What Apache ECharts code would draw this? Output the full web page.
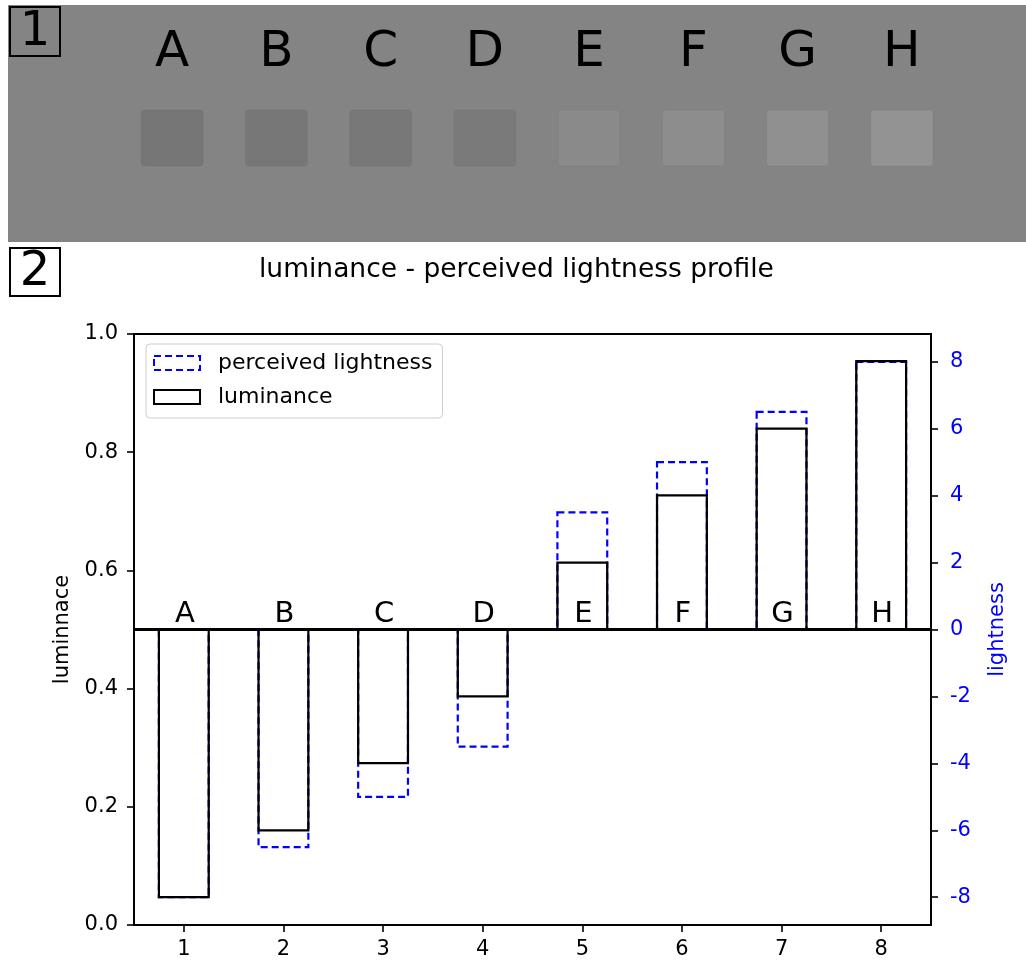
<!DOCTYPE html>
<html>
<head>
<meta charset="utf-8">
<script src="https://cdn.jsdelivr.net/npm/echarts@6/dist/echarts.min.js"></script>
<style>
html,body{margin:0;padding:0;background:#fff;}
#chart{width:1026px;height:962px;}
</style>
</head>
<body>
<div id="chart"></div>
<script>
// ---- data ----
var letters = ['A', 'B', 'C', 'D', 'E', 'F', 'G', 'H'];
var xTickLabels = ['1', '2', '3', '4', '5', '6', '7', '8'];
var luminance = [0.047, 0.160, 0.274, 0.387, 0.613, 0.727, 0.840, 0.954];
var lightness = [-8, -6.5, -5, -3.5, 3.5, 5, 6.5, 8];
var lightnessTicks = [-8, -6, -4, -2, 0, 2, 4, 6, 8];
var squareGrays = ['#767676', '#777777', '#787878', '#7a7a7a', '#8a8a8a', '#8d8d8d', '#909090', '#939393'];

var FONT = '"DejaVu Sans", "Liberation Sans", sans-serif';
var chart = echarts.init(document.getElementById('chart'), null, {renderer: 'canvas'});

var lumData = luminance.map(function (v, i) { return [i, v]; });
var ligData = lightness.map(function (v, i) { return [i, v]; });
var sqData = squareGrays.map(function (c, i) { return [i, 0.5]; });

function barItem(baseValue, stroke, dash, withLetter) {
  return function (params, api) {
    var i = api.value(0);
    var v = api.value(1);
    var base = api.coord([i, baseValue]);
    var top = api.coord([i, v]);
    var w = api.size([1, 0])[0] * 0.5;
    var y0 = Math.min(base[1], top[1]);
    var h = Math.abs(base[1] - top[1]);
    var children = [
      {type: 'rect', shape: {x: base[0] - w / 2, y: y0, width: w, height: h},
        style: {fill: 'none', stroke: stroke, lineWidth: 2.2, lineDash: dash}}
    ];
    if (withLetter) {
      children.push({type: 'text', style: {x: base[0] + 1, y: base[1] - 15, text: letters[params.dataIndex],
        fill: '#000', font: '29px ' + FONT, align: 'center', verticalAlign: 'middle'}});
    }
    return {type: 'group', children: children};
  };
}

var option = {
  animation: false,
  backgroundColor: '#ffffff',
  title: {
    text: 'luminance - perceived lightness profile',
    left: 259, top: 257, padding: 0,
    textStyle: {fontFamily: FONT, fontSize: 26.5, fontWeight: 'normal', color: '#000'}
  },
  graphic: [
    {type: 'rect', z: -10, shape: {x: 8, y: 5, width: 1018, height: 237}, style: {fill: '#848484'}},
    {type: 'rect', z: 10, shape: {x: 10, y: 7, width: 50, height: 49}, style: {fill: 'none', stroke: '#000', lineWidth: 2}},
    {type: 'text', z: 10, style: {x: 35, y: 33, text: '1', fill: '#000', font: '48px ' + FONT, align: 'center', verticalAlign: 'middle'}},
    {type: 'rect', z: 10, shape: {x: 10, y: 248, width: 50, height: 48}, style: {fill: 'none', stroke: '#000', lineWidth: 2}},
    {type: 'text', z: 10, style: {x: 35, y: 273, text: '2', fill: '#000', font: '48px ' + FONT, align: 'center', verticalAlign: 'middle'}}
  ],
  legend: {
    orient: 'vertical', left: 146, top: 344,
    itemWidth: 46, itemHeight: 14, itemGap: 12,
    padding: [8, 10, 10, 7],
    backgroundColor: '#ffffff', borderColor: '#cccccc', borderWidth: 1, borderRadius: 4,
    textStyle: {fontFamily: FONT, fontSize: 22, color: '#000', lineHeight: 20, padding: [0, 0, 0, 13]},
    data: [
      {name: 'perceived lightness', icon: 'rect', itemStyle: {color: 'rgba(0,0,0,0)', borderColor: '#0000ff', borderWidth: 2, borderType: [7, 4]}},
      {name: 'luminance', icon: 'rect', itemStyle: {color: 'rgba(0,0,0,0)', borderColor: '#000000', borderWidth: 2, borderType: 'solid'}}
    ]
  },
  grid: [
    {left: 134, top: 334, width: 797, height: 591, show: true, borderColor: '#000', borderWidth: 2, backgroundColor: 'transparent'},
    {left: 120, top: 5, width: 834, height: 237, show: false}
  ],
  xAxis: [
    {
      type: 'category', gridIndex: 0, data: xTickLabels, boundaryGap: true,
      axisLine: {show: false},
      axisTick: {show: true, alignWithLabel: true, length: 7, lineStyle: {color: '#000', width: 1.6}},
      axisLabel: {margin: 14, color: '#000', fontFamily: FONT, fontSize: 21},
      splitLine: {show: false}
    },
    {
      type: 'category', gridIndex: 1, data: letters, boundaryGap: true, show: false
    }
  ],
  yAxis: [
    {
      type: 'value', gridIndex: 0, min: 0, max: 1, interval: 0.2, position: 'left',
      name: 'luminnace', nameLocation: 'middle', nameRotate: 90, nameGap: 61,
      nameTextStyle: {fontFamily: FONT, fontSize: 21, color: '#000'},
      axisLine: {show: false},
      axisTick: {show: true, length: 7, lineStyle: {color: '#000', width: 1.6}},
      axisLabel: {margin: 16, color: '#000', fontFamily: FONT, fontSize: 21, formatter: function (v) { return v.toFixed(1); }},
      splitLine: {show: false}
    },
    {
      type: 'value', gridIndex: 0, min: -8.83, max: 8.83, position: 'right',
      name: 'lightness', nameLocation: 'middle', nameRotate: 90, nameGap: 56,
      nameTextStyle: {fontFamily: FONT, fontSize: 21, color: '#0000ff'},
      axisLine: {show: false},
      axisTick: {show: true, length: 7, customValues: lightnessTicks, lineStyle: {color: '#000', width: 1.6}},
      axisLabel: {margin: 19, color: '#0000ff', fontFamily: FONT, fontSize: 21, customValues: lightnessTicks,
        formatter: function (v) { return String(v); }},
      splitLine: {show: false}
    },
    {type: 'value', gridIndex: 1, min: 0, max: 1, show: false}
  ],
  series: [
    {
      name: 'perceived lightness', type: 'custom', xAxisIndex: 0, yAxisIndex: 1, z: 2,
      data: ligData, encode: {x: 0, y: 1},
      itemStyle: {color: 'rgba(0,0,0,0)', borderColor: '#0000ff', borderWidth: 2, borderType: [7, 4]},
      renderItem: barItem(0, '#0000ff', [7, 4], false),
      markLine: {
        silent: true, symbol: ['none', 'none'], label: {show: false},
        lineStyle: {color: '#000', width: 3, type: 'solid'},
        data: [{yAxis: 0}]
      }
    },
    {
      name: 'luminance', type: 'custom', xAxisIndex: 0, yAxisIndex: 0, z: 5,
      data: lumData, encode: {x: 0, y: 1},
      itemStyle: {color: 'rgba(0,0,0,0)', borderColor: '#000', borderWidth: 2},
      renderItem: barItem(0.5, '#000000', null, true)
    },
    {
      name: 'patches', type: 'custom', xAxisIndex: 1, yAxisIndex: 2, z: 3,
      data: sqData, encode: {x: 0, y: 1}, silent: true,
      renderItem: function (params, api) {
        var i = api.value(0);
        var c = api.coord([i, 0.5]);
        var w = api.size([1, 0])[0] * 0.595;
        var cs = params.coordSys;
        return {
          type: 'group',
          children: [
            {type: 'rect', shape: {x: c[0] - w / 2, y: cs.y + 105, width: w, height: 56, r: 3},
              style: {fill: squareGrays[params.dataIndex], stroke: 'rgba(0,0,0,0.04)', lineWidth: 1}},
            {type: 'text', style: {x: c[0], y: cs.y + 48, text: letters[params.dataIndex],
              fill: '#000', font: '50px ' + FONT, align: 'center', verticalAlign: 'middle'}}
          ]
        };
      }
    }
  ]
};
chart.setOption(option);
</script>
</body>
</html>
